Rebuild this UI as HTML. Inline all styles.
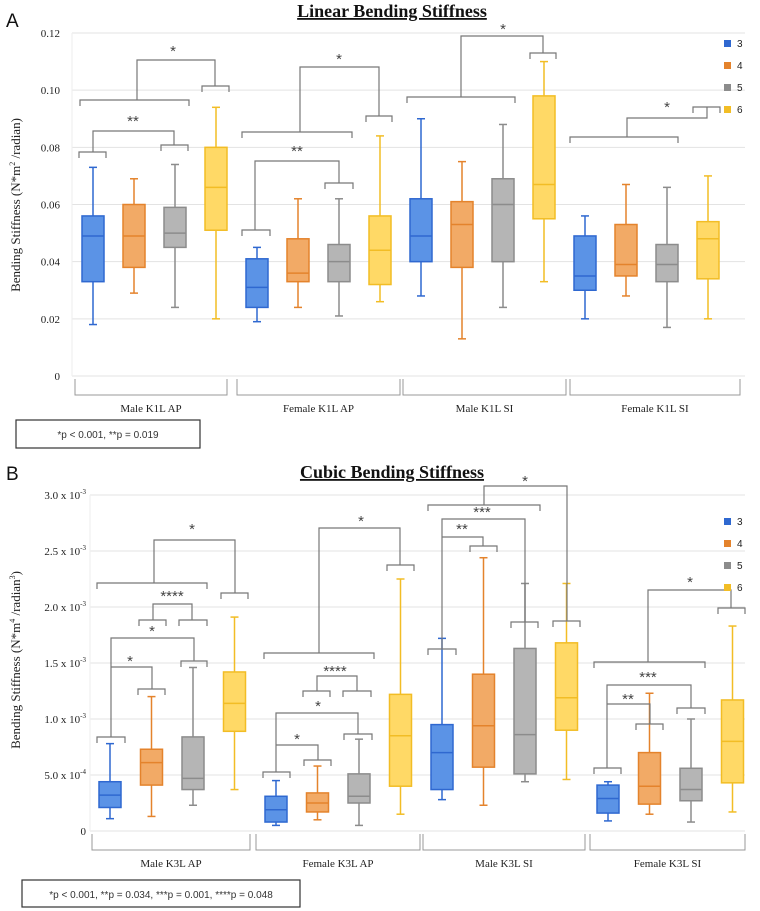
<!DOCTYPE html>
<html><head><meta charset="utf-8"><style>
body{margin:0;background:#fff;}
svg{display:block;font-family:"Liberation Serif",serif;}
</style></head><body>
<svg id="c" width="760" height="911" viewBox="0 0 760 911" xmlns="http://www.w3.org/2000/svg"></svg>
<script>
const groupsA=["Male K1L AP","Female K1L AP","Male K1L SI","Female K1L SI"];
const groupsB=["Male K3L AP","Female K3L AP","Male K3L SI","Female K3L SI"];
const seriesNames=["3","4","5","6"];
const ticksA=["0","0.02","0.04","0.06","0.08","0.10","0.12"];
const ticksB=["0","5.0 x 10","1.0 x 10","1.5 x 10","2.0 x 10","2.5 x 10","3.0 x 10"];
const ticksBexp=["","-4","-3","-3","-3","-3","-3"];
// [min,q1,median,q3,max] per group per series
const dataA=[
[[0.018,0.033,0.049,0.056,0.073],[0.029,0.038,0.049,0.060,0.069],[0.024,0.045,0.050,0.059,0.074],[0.020,0.051,0.066,0.080,0.094]],
[[0.019,0.024,0.031,0.041,0.045],[0.024,0.033,0.036,0.048,0.062],[0.021,0.033,0.040,0.046,0.062],[0.026,0.032,0.044,0.056,0.084]],
[[0.028,0.040,0.049,0.062,0.090],[0.013,0.038,0.053,0.061,0.075],[0.024,0.040,0.060,0.069,0.088],[0.033,0.055,0.067,0.098,0.110]],
[[0.020,0.030,0.035,0.049,0.056],[0.028,0.035,0.039,0.053,0.067],[0.017,0.033,0.039,0.046,0.066],[0.020,0.034,0.048,0.054,0.070]]];
const dataB=[
[[0.11,0.21,0.32,0.44,0.78],[0.13,0.41,0.61,0.73,1.20],[0.23,0.37,0.47,0.84,1.46],[0.37,0.89,1.14,1.42,1.91]],
[[0.05,0.08,0.19,0.31,0.45],[0.10,0.17,0.25,0.34,0.58],[0.05,0.25,0.31,0.51,0.82],[0.15,0.40,0.85,1.22,2.25]],
[[0.28,0.37,0.70,0.95,1.72],[0.23,0.57,0.94,1.40,2.44],[0.44,0.51,0.86,1.63,2.21],[0.46,0.90,1.19,1.68,2.21]],
[[0.09,0.16,0.29,0.41,0.44],[0.15,0.24,0.40,0.70,1.23],[0.08,0.27,0.37,0.56,1.00],[0.17,0.43,0.80,1.17,1.83]]];
const fills=["#5b93e6","#f2aa66","#b5b5b5","#ffd966"];
const strokes=["#2f68d0","#e4832c","#8c8c8c","#f2bd25"];
const svg=document.getElementById('c');
const NS="http://www.w3.org/2000/svg";
function el(t,a,p){const e=document.createElementNS(NS,t);for(const k in a)e.setAttribute(k,a[k]);(p||svg).appendChild(e);return e;}
function txt(x,y,s,a){const e=el('text',Object.assign({x:x,y:y},a||{}));e.textContent=s;return e;}

function panel(o){
  const g=el('g',{});
  
  
  const y=v=>o.y0-(v/o.max)*(o.y0-o.yTop);
  // grid
  for(let i=0;i<o.ticks.length;i++){
    const v=o.max*i/(o.ticks.length-1);
    const gl=el('line',{x1:o.x0,x2:o.x1,y1:y(v),y2:y(v),stroke:'#e3e3e3','stroke-width':1},g);
    
    
    const t=txt(o.tickX,y(v)+4,o.ticks[i],{'text-anchor':'end','font-size':11,fill:'#222'},g);
    
    
    if(o.exps&&o.exps[i]){const ts=el('tspan',{dy:-5,'font-size':7},t);ts.textContent=o.exps[i];}
  }
  el('line',{x1:o.x0,x2:o.x0,y1:o.yTop,y2:o.y0,stroke:'#eee'},g);
  // boxes
  const bw=22;
  o.data.forEach((grp,gi)=>{
    grp.forEach((d,si)=>{
      const cx=o.boxX0+gi*o.groupW+si*o.boxStep;
      const b=el('g',{},g);
      
      
      el('line',{x1:cx,x2:cx,y1:y(d[0]),y2:y(d[4]),stroke:strokes[si],'stroke-width':1.5},b);
      el('line',{x1:cx-4,x2:cx+4,y1:y(d[0]),y2:y(d[0]),stroke:strokes[si],'stroke-width':1.5},b);
      el('line',{x1:cx-4,x2:cx+4,y1:y(d[4]),y2:y(d[4]),stroke:strokes[si],'stroke-width':1.5},b);
      el('rect',{x:cx-bw/2,y:y(d[3]),width:bw,height:y(d[1])-y(d[3]),fill:fills[si],stroke:strokes[si],'stroke-width':1.5},b);
      el('line',{x1:cx-bw/2,x2:cx+bw/2,y1:y(d[2]),y2:y(d[2]),stroke:strokes[si],'stroke-width':1.5},b);
    });
  });
  // category brackets
  o.cats.forEach((c,i)=>{
    const r=o.catRanges[i];
    const p=el('path',{d:`M${r[0]} ${o.y0+3}V${o.y0+19}H${r[1]}V${o.y0+3}`,fill:'none',stroke:'#999','stroke-width':1},g);
    
    
    const t=txt((r[0]+r[1])/2,o.y0+36,c,{'text-anchor':'middle','font-size':11,fill:'#222'},g);
    
    
  });
  // significance
  o.sig.forEach(s=>{
    const p=el('path',{d:s[0],fill:'none',stroke:'#777','stroke-width':1.2},g);
    
    
    const t=txt(s[1],s[2],s[3],{'text-anchor':'middle','font-size':15,fill:'#444','font-family':'Liberation Sans,sans-serif'},g);
    
    
  });
  // legend
  seriesNames.forEach((n,i)=>{
    const ly=o.legY+i*22;
    const r=el('rect',{x:724,y:ly-4,width:7,height:7,fill:strokes[i]},g);
    
    
    const t=txt(737,ly+3,n,{'font-size':10,fill:'#222','font-family':'Liberation Sans,sans-serif'},g);
    
    
  });
  // y title
  const yt=txt(0,0,'',{transform:`translate(${o.ytX},${o.ytY}) rotate(-90)`,'text-anchor':'middle','font-size':13,fill:'#222'},g);
  
  
  const parts=o.ytParts;
  parts.forEach(pp=>{const ts=el('tspan',pp[1]?{dy:pp[1],'font-size':pp[2]}:{},yt);ts.textContent=pp[0];});
}
function cap(x1,x2,y){return `M${x1} ${y+6}V${y}H${x2}V${y+6}`;}
function conn(xa,ya,yt,xb,yb){return `M${xa} ${ya}V${yt}H${xb}V${yb}`;}

panel({name:'chart-a-linear',x0:72,x1:745,yTop:33,y0:376,max:0.12,ticks:ticksA,tickX:60,
  data:dataA,boxX0:93,groupW:164,boxStep:41,
  cats:groupsA,catRanges:[[75,227],[237,400],[403,566],[570,740]],legY:44,
  ytX:20,ytY:205,ytParts:[["Bending Stiffness (N*m"],["2",-5,8],[" /radian)",5,13]],
  sig:[
   [cap(79,106,152)+cap(161,188,145)+conn(93,152,131,174,145),133,126,'**'],
   [cap(80,189,100)+cap(202,229,86)+conn(137,100,60,215,86),173,56,'*'],
   [cap(242,270,230)+cap(325,353,183)+conn(255,230,161,339,183),297,156,'**'],
   [cap(242,352,132)+cap(366,392,116)+conn(300,132,67,379,116),339,64,'*'],
   [cap(407,515,97)+cap(530,556,53)+conn(461,97,36,543,53),503,34,'*'],
   [cap(570,678,137)+cap(693,720,107)+conn(627,137,118,707,107),667,112,'*']
  ]});
panel({name:'chart-b-cubic',x0:90,x1:745,yTop:495,y0:831,max:3.0,ticks:ticksB,exps:ticksBexp,tickX:86,
  data:dataB,boxX0:110,groupW:166,boxStep:41.5,
  cats:groupsB,catRanges:[[92,250],[256,420],[423,585],[590,745]],legY:522,
  ytX:20,ytY:660,ytParts:[["Bending Stiffness (N*m"],["4",-5,8],[" /radian",5,13],["3",-5,8],[")",5,13]],
  sig:[
   [cap(97,207,583)+cap(221,248,593)+conn(154,583,540,235,593),192,534,'*'],
   [cap(139,166,620)+cap(179,207,620)+conn(153,620,604,192,620),172,601,'****'],
   [cap(97,125,737)+cap(181,207,661)+conn(111,737,638,194,661),152,636,'*'],
   [cap(138,165,689)+conn(111,667,667,152,689),130,666,'*'],
   [cap(264,374,653)+cap(387,414,565)+conn(319,653,528,400,565),361,526,'*'],
   [cap(303,330,691)+cap(343,371,691)+conn(317,691,676,357,691),335,676,'****'],
   [cap(263,290,772)+cap(344,372,734)+conn(276,772,713,358,734),318,711,'*'],
   [cap(304,331,760)+conn(276,745,745,318,760),297,744,'*'],
   [cap(428,456,649)+cap(511,538,622)+conn(442,649,519,525,622),482,517,'***'],
   [cap(470,497,546)+conn(442,537,537,483,546),462,534,'**'],
   [cap(428,540,505)+cap(553,580,621)+conn(484,505,486,567,621),525,486,'*'],
   [cap(594,705,662)+cap(718,745,608)+conn(648,662,590,731,608),690,587,'*'],
   [cap(594,621,768)+cap(677,705,708)+conn(607,768,685,691,708),648,682,'***'],
   [cap(636,663,724)+conn(607,704,704,650,724),628,704,'**']
  ]});

// titles & labels
[[392,17,'Linear Bending Stiffness','title-a'],[392,478,'Cubic Bending Stiffness','title-b']].forEach(t=>{
  const e=txt(t[0],t[1],t[2],{'text-anchor':'middle','font-size':18,'font-weight':'bold','text-decoration':'underline',fill:'#111'});
  
  
});
[[6,27,'A','panel-label-a'],[6,480,'B','panel-label-b']].forEach(t=>{
  const e=txt(t[0],t[1],t[2],{'font-size':19,fill:'#111','font-family':'Liberation Sans,sans-serif'});
  
  
});
const n1=el('rect',{x:16,y:420,width:184,height:28,fill:'none',stroke:'#333','stroke-width':1.2});


const t1=txt(108,438,'*p < 0.001,    **p = 0.019',{'text-anchor':'middle','font-size':10,'font-family':'Liberation Sans,sans-serif',fill:'#333'});


const n2=el('rect',{x:22,y:880,width:278,height:27,fill:'none',stroke:'#333','stroke-width':1.2});


const t2=txt(161,898,'*p < 0.001,    **p = 0.034,    ***p = 0.001,    ****p = 0.048',{'text-anchor':'middle','font-size':10,'font-family':'Liberation Sans,sans-serif',fill:'#333'});


</script>
</body></html>
